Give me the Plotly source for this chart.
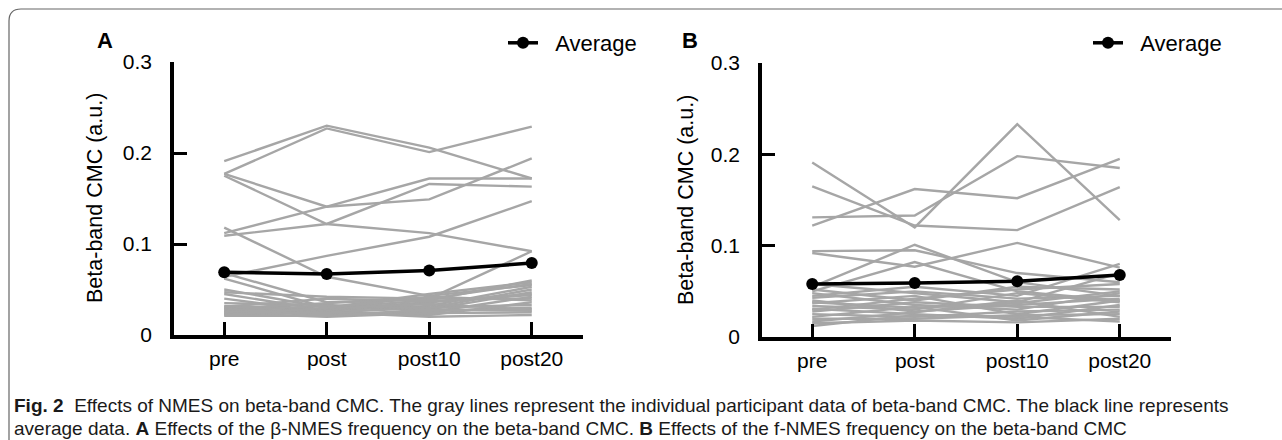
import plotly.graph_objects as go

W, H = 1282, 440

categories = ["pre", "post", "post10", "post20"]

# Panel A: individual participants (beta-NMES)
participants_a = [
    [0.191, 0.230, 0.206, 0.172],
    [0.177, 0.227, 0.201, 0.229],
    [0.177, 0.141, 0.149, 0.194],
    [0.175, 0.122, 0.112, 0.092],
    [0.118, 0.064, 0.043, 0.055],
    [0.112, 0.141, 0.172, 0.172],
    [0.109, 0.122, 0.166, 0.163],
    [0.064, 0.087, 0.108, 0.147],
    [0.068, 0.036, 0.040, 0.092],
    [0.062, 0.030, 0.038, 0.060],
    [0.050, 0.030, 0.045, 0.058],
    [0.047, 0.042, 0.040, 0.056],
    [0.045, 0.027, 0.032, 0.053],
    [0.040, 0.025, 0.030, 0.050],
    [0.035, 0.033, 0.028, 0.047],
    [0.032, 0.028, 0.036, 0.044],
    [0.030, 0.023, 0.025, 0.042],
    [0.029, 0.035, 0.040, 0.040],
    [0.028, 0.026, 0.022, 0.036],
    [0.027, 0.032, 0.030, 0.033],
    [0.026, 0.022, 0.026, 0.030],
    [0.025, 0.029, 0.034, 0.028],
    [0.024, 0.020, 0.024, 0.025],
    [0.023, 0.025, 0.020, 0.022],
    [0.022, 0.030, 0.042, 0.038],
    [0.021, 0.021, 0.028, 0.027],
    [0.031, 0.040, 0.037, 0.045],
]
average_a = [0.069, 0.067, 0.071, 0.079]

# Panel B: individual participants (f-NMES)
participants_b = [
    [0.191, 0.120, 0.233, 0.128],
    [0.165, 0.122, 0.117, 0.164],
    [0.131, 0.133, 0.198, 0.185],
    [0.122, 0.162, 0.152, 0.195],
    [0.094, 0.095, 0.070, 0.060],
    [0.092, 0.077, 0.103, 0.076],
    [0.055, 0.101, 0.060, 0.045],
    [0.050, 0.082, 0.050, 0.040],
    [0.045, 0.055, 0.045, 0.080],
    [0.058, 0.048, 0.038, 0.070],
    [0.052, 0.040, 0.055, 0.052],
    [0.048, 0.035, 0.030, 0.048],
    [0.043, 0.050, 0.042, 0.045],
    [0.040, 0.028, 0.035, 0.042],
    [0.037, 0.045, 0.025, 0.040],
    [0.034, 0.030, 0.048, 0.038],
    [0.031, 0.025, 0.020, 0.035],
    [0.028, 0.038, 0.033, 0.033],
    [0.025, 0.022, 0.028, 0.030],
    [0.022, 0.033, 0.018, 0.028],
    [0.020, 0.020, 0.024, 0.025],
    [0.017, 0.027, 0.040, 0.022],
    [0.015, 0.018, 0.016, 0.020],
    [0.012, 0.024, 0.022, 0.017],
    [0.030, 0.042, 0.052, 0.058],
    [0.038, 0.032, 0.037, 0.050],
]
average_b = [0.058, 0.059, 0.061, 0.068]

y_tickvals = [0, 0.1, 0.2, 0.3]
y_ticktext = ["0", "0.1", "0.2", "0.3"]

GRAY = "#a6a6a6"
FONT = "Liberation Sans, Arial, sans-serif"


def px_x(p):
    return p / W


def px_y(p):
    return 1 - p / H


fig = go.Figure()

for parts, avg, xa, ya, leg in [
    (participants_a, average_a, "x", "y", "legend"),
    (participants_b, average_b, "x2", "y2", "legend2"),
]:
    for vals in parts:
        fig.add_trace(go.Scatter(
            x=categories, y=vals, xaxis=xa, yaxis=ya, mode="lines",
            line=dict(color=GRAY, width=2.4), showlegend=False, hoverinfo="skip",
        ))
    fig.add_trace(go.Scatter(
        x=categories, y=avg, xaxis=xa, yaxis=ya, mode="lines+markers",
        name="\u00a0\u00a0Average", legend=leg,
        line=dict(color="black", width=3.5),
        marker=dict(color="black", size=12),
        showlegend=True,
    ))

axis_common = dict(
    showline=True, linecolor="black", linewidth=3.5,
    ticks="inside", ticklen=13, tickwidth=3, tickcolor="black",
    showgrid=False, zeroline=False, automargin=False,
    tickfont=dict(family=FONT, size=21, color="black"),
)

fig.update_layout(
    template="none",
    width=W, height=H,
    margin=dict(l=0, r=0, t=0, b=0, pad=0, autoexpand=False),
    paper_bgcolor="white", plot_bgcolor="white",
    font=dict(family=FONT, color="black"),
    xaxis=dict(domain=[px_x(174), px_x(583)], range=[-0.49, 3.5],
               type="category", anchor="y", ticklabelstandoff=2, **axis_common),
    yaxis=dict(domain=[px_y(335), px_y(62)], range=[0, 0.3], anchor="x",
               tickvals=y_tickvals, ticktext=y_ticktext, ticklabelstandoff=14,
               **axis_common),
    xaxis2=dict(domain=[px_x(762), px_x(1171)], range=[-0.49, 3.5],
                type="category", anchor="y2", ticklabelstandoff=2, **axis_common),
    yaxis2=dict(domain=[px_y(337), px_y(63)], range=[0, 0.3], anchor="x2",
                tickvals=y_tickvals, ticktext=y_ticktext, ticklabelstandoff=14,
                **axis_common),
    legend=dict(x=px_x(503), y=px_y(43), xanchor="left", yanchor="middle",
                bgcolor="rgba(0,0,0,0)", borderwidth=0,
                font=dict(family=FONT, size=22, color="black")),
    legend2=dict(x=px_x(1088), y=px_y(43), xanchor="left", yanchor="middle",
                 bgcolor="rgba(0,0,0,0)", borderwidth=0,
                 font=dict(family=FONT, size=22, color="black")),
)

annotations = [
    dict(text="<b>A</b>", x=px_x(105), y=px_y(40), font=dict(size=22)),
    dict(text="<b>B</b>", x=px_x(690), y=px_y(40), font=dict(size=22)),
    dict(text="Beta-band CMC (a.u.)", x=px_x(95), y=px_y(198), textangle=-90,
         font=dict(size=21.5)),
    dict(text="Beta-band CMC (a.u.)", x=px_x(686), y=px_y(200), textangle=-90,
         font=dict(size=21.5)),
]
for a in annotations:
    a.update(xref="paper", yref="paper", showarrow=False,
             xanchor="center", yanchor="middle")
    a["font"].update(family=FONT, color="black")
    fig.add_annotation(**a)

caption1 = ("<b>Fig. 2</b>\u00a0\u00a0Effects of NMES on beta-band CMC. The gray lines represent the "
            "individual participant data of beta-band CMC. The black line represents")
caption2 = ("average data. <b>A</b> Effects of the β-NMES frequency on the beta-band CMC. "
            "<b>B</b> Effects of the f-NMES frequency on the beta-band CMC")
for txt, yy in [(caption1, 405), (caption2, 428)]:
    fig.add_annotation(text=txt, xref="paper", yref="paper", x=px_x(12), y=px_y(yy),
                       xanchor="left", yanchor="middle", showarrow=False, align="left",
                       font=dict(family=FONT, size=19, color="#1a1a1a"))

# Rounded frame around the figure (extends beyond right/bottom edges)
r = 12
path = (f"M {px_x(9)},{px_y(H + 5)} L {px_x(9)},{px_y(9 + r)} "
        f"Q {px_x(9)},{px_y(9)} {px_x(9 + r)},{px_y(9)} L {px_x(W + 5)},{px_y(9)}")
fig.add_shape(type="path", path=path, xref="paper", yref="paper",
              line=dict(color="#666666", width=1.2))

fig.write_html("out.html")
